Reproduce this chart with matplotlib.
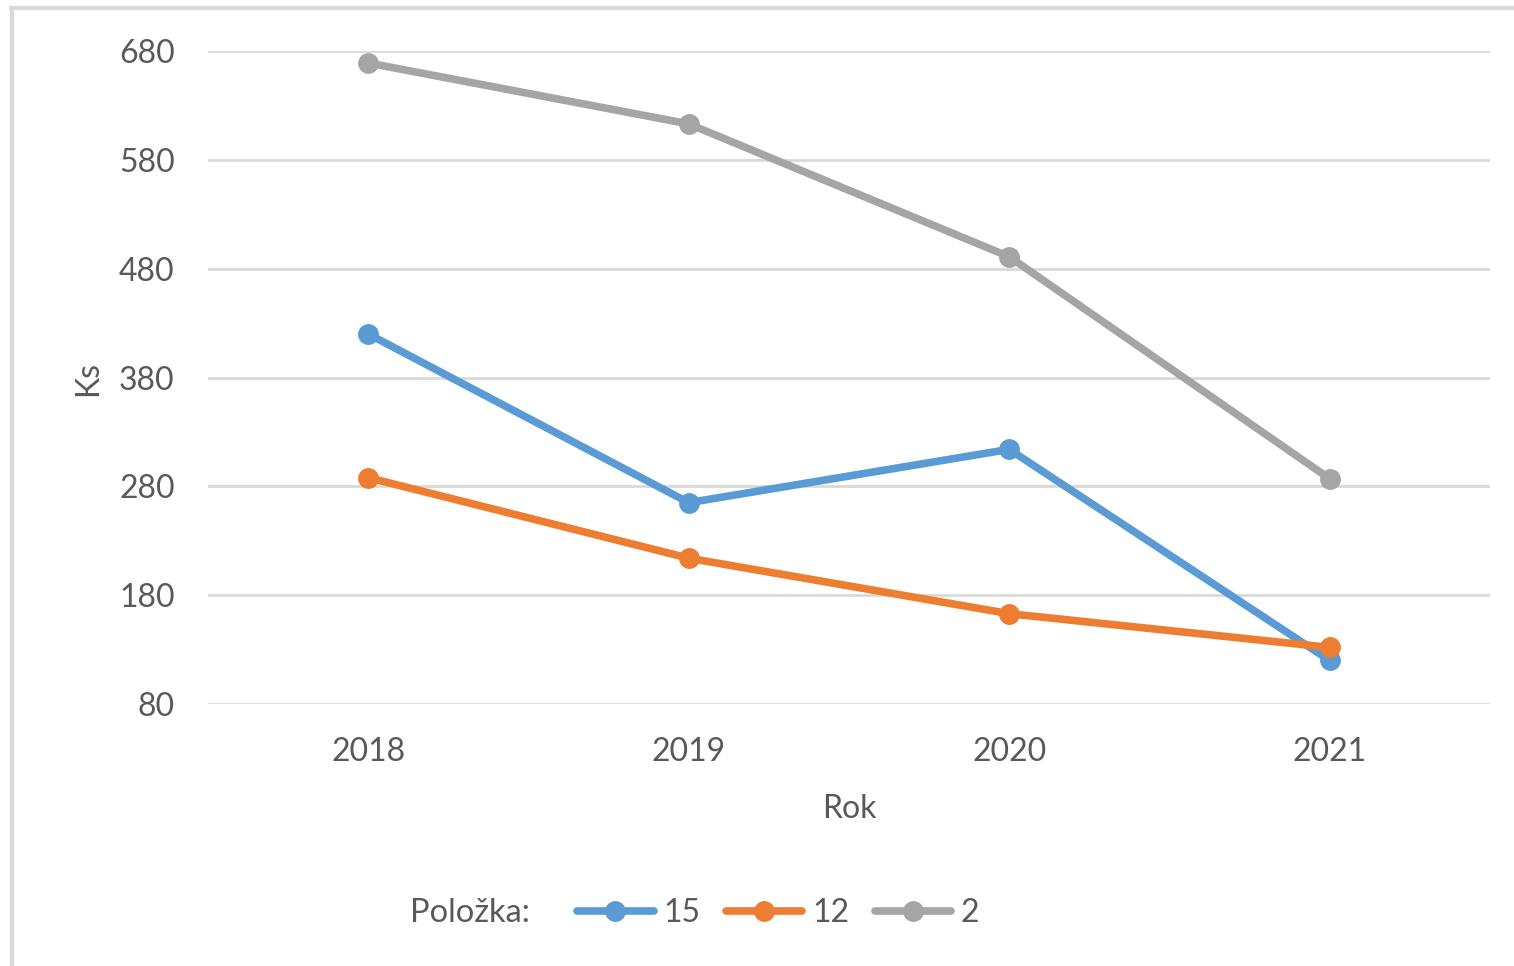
import matplotlib.pyplot as plt
from matplotlib.lines import Line2D

# data
years = ['2018', '2019', '2020', '2021']
item_15 = [420, 265, 314, 120]
item_12 = [288, 214, 163, 132]
item_2 = [669, 613, 491, 287]
series_names = ['15', '12', '2']
yticks = [80, 180, 280, 380, 480, 580, 680]

colors = ['#5B9BD5', '#ED7D31', '#A5A5A5']
text_col = '#595959'

plt.rcParams['font.family'] = ['Lato', 'DejaVu Sans']

fig = plt.figure(figsize=(15.14, 9.66), dpi=100)
ax = fig.add_axes([0.1374, 0.2712, 0.8467, 0.676])

x = range(len(years))
for vals, name, c in zip([item_15, item_12, item_2], series_names, colors):
    ax.plot(x, vals, color=c, lw=5.5, marker='o', ms=14, label=name,
            solid_capstyle='round')

ax.set_xlim(-0.5, 3.5)
ax.set_ylim(80, 680)
ax.set_yticks(yticks)
ax.set_xticks(list(x))
ax.set_xticklabels(years)
ax.grid(axis='y', color='#D9D9D9', lw=2)
ax.set_axisbelow(True)
for s in ax.spines.values():
    s.set_visible(False)
ax.tick_params(length=0, labelsize=23, colors=text_col, pad=24)
ax.tick_params(axis='x', pad=24)

fig.text(0.058, 0.608, 'Ks', rotation=90, fontsize=23, color=text_col,
         ha='center', va='center')
fig.text(0.561, 0.163, 'Rok', fontsize=23, color=text_col,
         ha='center', va='center')

# legend with its "title" on the left
fig.text(0.271, 0.055, 'Položka:', fontsize=23.5, color=text_col,
         ha='left', va='center')
leg = fig.legend(loc='center left', bbox_to_anchor=(0.381, 0.055), ncol=3,
                 frameon=False, fontsize=23, handlelength=2.4,
                 handletextpad=0.3, columnspacing=0.8, labelcolor=text_col,
                 borderaxespad=0, borderpad=0)

# light frame around the chart area
fig.add_artist(Line2D([0.007, 1.0], [0.992, 0.992], color='#D9D9D9', lw=3))
fig.add_artist(Line2D([0.008, 0.008], [0.0, 0.992], color='#D9D9D9', lw=3))

fig.savefig('out.png', dpi=100)
